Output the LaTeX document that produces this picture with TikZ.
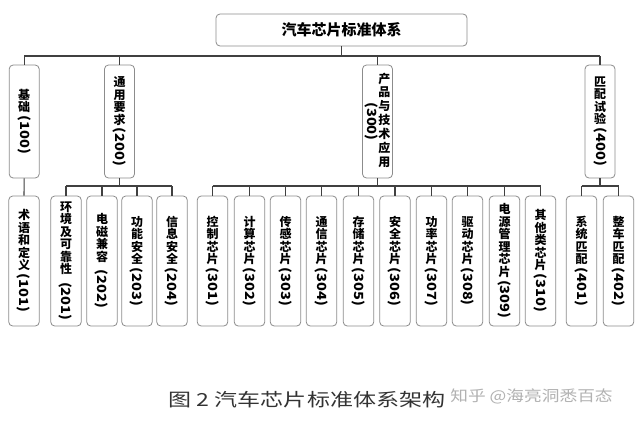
\documentclass[tikz,border=0pt]{standalone}
\usepackage{fontspec}
\usepackage{graphicx}
\setmainfont{Noto Sans CJK SC}
\newcommand\rdt[1]{\rotatebox{-90}{\scalebox{1.22}[1.05]{#1}}}
\newcommand\rd[2][0.72em]{\raisebox{#1}{\rdt{#2}}}
\newcommand\vcol[1]{\begin{tabular}{@{}c@{}}#1\end{tabular}}
\begin{document}
\begin{tikzpicture}[x=1pt,y=-1pt,
  box/.style={draw=black!45, line width=0.8pt, rounded corners=4pt, fill=white,
    align=center, inner sep=0pt, font=\bfseries\fontsize{12}{12.5}\selectfont},
  lone/.style={box, minimum width=30pt, minimum height=113pt},
  ltwo/.style={box, minimum width=30.5pt, minimum height=130pt},
  link/.style={draw=black!75, line width=1.1pt}]
\useasboundingbox[fill=white] (0,0) rectangle (637,426);

\node[box, minimum width=251pt, minimum height=32pt, font=\bfseries\fontsize{15}{15}\selectfont] (top) at (341.5,30) {汽车芯片标准体系};

% level one
\node[lone] (b100) at (24.2,121.5) {基\\础\\\rd{(100)}};
\node[lone] (b200) at (119.5,121.5) {通\\用\\要\\求\\\rd{(200)}};
\node[lone] (b300) at (377.5,121.5) {$\vcenter{\hbox{\rdt{(300)}}}\hspace{0.5pt}\vcenter{\hbox{\vcol{产\\品\\与\\技\\术\\应\\用}}}$};
\node[lone] (b400) at (600,121.5) {匹\\配\\试\\验\\\rd{(400)}};

% level two
\node[ltwo] (b101) at (24,261) {术\\语\\和\\定\\义\\\rd{(101)}};
\node[ltwo] (b201) at (66,261) {环\\境\\及\\可\\靠\\性\\\rd[0.35em]{(201)}};
\node[ltwo] (b202) at (102,261) {电\\磁\\兼\\容\\\rd[0.35em]{(202)}};
\node[ltwo] (b203) at (137,261) {功\\能\\安\\全\\\rd{(203)}};
\node[ltwo] (b204) at (172,261) {信\\息\\安\\全\\\rd{(204)}};
\node[ltwo] (b301) at (212.5,261) {控\\制\\芯\\片\\\rd{(301)}};
\node[ltwo] (b302) at (249.5,261) {计\\算\\芯\\片\\\rd{(302)}};
\node[ltwo] (b303) at (285.5,261) {传\\感\\芯\\片\\\rd{(303)}};
\node[ltwo] (b304) at (321.5,261) {通\\信\\芯\\片\\\rd{(304)}};
\node[ltwo] (b305) at (358.5,261) {存\\储\\芯\\片\\\rd{(305)}};
\node[ltwo] (b306) at (395,261) {安\\全\\芯\\片\\\rd{(306)}};
\node[ltwo] (b307) at (431.5,261) {功\\率\\芯\\片\\\rd{(307)}};
\node[ltwo] (b308) at (467.5,261) {驱\\动\\芯\\片\\\rd{(308)}};
\node[ltwo] (b309) at (504.5,261) {电\\源\\管\\理\\芯\\片\\\rd{(309)}};
\node[ltwo] (b310) at (540.5,261) {其\\他\\类\\芯\\片\\\rd{(310)}};
\node[ltwo] (b401) at (581.5,261) {系\\统\\匹\\配\\\rd{(401)}};
\node[ltwo] (b402) at (618.5,261) {整\\车\\匹\\配\\\rd{(402)}};

% buses
\coordinate (bus) at (0,56);
\coordinate (bus2) at (0,186);

\draw[link] (top.south) -- (top.south |- bus);
\draw[link] (b100.north |- bus) -- (b400.north |- bus);
\foreach \n in {100,200,300,400} \draw[link] (b\n.north) -- (b\n.north |- bus);

\draw[link] (b100.south) -- (b101.north);

\draw[link] (b200.south) -- (b200.south |- bus2);
\draw[link] (b201.north |- bus2) -- (b204.north |- bus2);
\foreach \n in {201,...,204} \draw[link] (b\n.north) -- (b\n.north |- bus2);

\draw[link] (b300.south) -- (b300.south |- bus2);
\draw[link] (b301.north |- bus2) -- (b310.north |- bus2);
\foreach \n in {301,...,310} \draw[link] (b\n.north) -- (b\n.north |- bus2);

\draw[link] (b400.south) -- (b400.south |- bus2);
\draw[link] (b401.north |- bus2) -- (b402.north |- bus2);
\foreach \n in {401,402} \draw[link] (b\n.north) -- (b\n.north |- bus2);

% caption and watermark
\node[inner sep=0pt, font=\fontsize{18}{18}\selectfont, text=black!80] (cap) at (307,399.5) {\scalebox{1.28}[1]{图 2 汽车芯片标准体系架构}};
\node[inner sep=0pt, font=\fontsize{15}{15}\selectfont, text=black!30] (wm) at (531.5,396) {\scalebox{1.18}[1]{知乎 @海亮洞悉百态}};
\end{tikzpicture}
\end{document}
